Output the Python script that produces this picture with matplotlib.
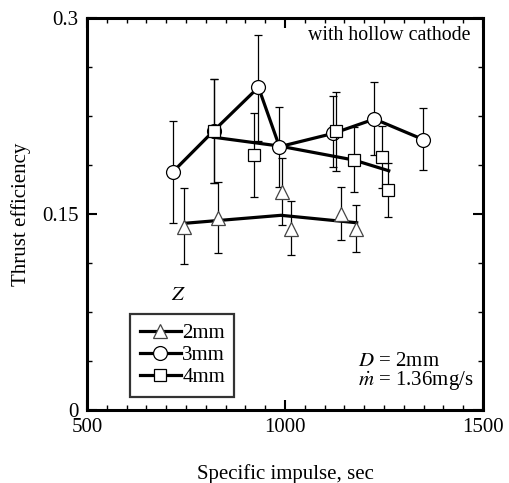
import matplotlib
matplotlib.use("Agg")
import matplotlib.pyplot as plt
from matplotlib.lines import Line2D
from matplotlib.ticker import MultipleLocator

plt.rcParams["font.family"] = "Liberation Serif"
plt.rcParams["mathtext.fontset"] = "stix"

# Z = 2mm (triangles)
z2_isp = [744, 832, 993, 1014, 1141, 1179]
z2_eff = [0.1398, 0.1467, 0.1666, 0.1385, 0.1497, 0.1383]
z2_hi = [0.1697, 0.1743, 0.1926, 0.1600, 0.1704, 0.1567]
z2_lo = [0.1115, 0.1199, 0.1416, 0.1184, 0.1299, 0.1207]
z2_line_isp = [747, 990, 1181]
z2_line_eff = [0.1429, 0.1490, 0.1433]

# Z = 3mm (circles)
z3_isp = [716, 820, 933, 986, 1122, 1226, 1349]
z3_eff = [0.182, 0.2137, 0.247, 0.2015, 0.2117, 0.2227, 0.207]
z3_hi = [0.221, 0.253, 0.287, 0.232, 0.240, 0.251, 0.231]
z3_lo = [0.143, 0.174, 0.206, 0.171, 0.186, 0.195, 0.184]

# Z = 4mm (squares)
z4_isp = [821, 922, 1129, 1174, 1246, 1261]
z4_eff = [0.2137, 0.195, 0.2135, 0.191, 0.1934, 0.1684]
z4_hi = [0.253, 0.2275, 0.243, 0.2163, 0.2173, 0.1888]
z4_lo = [0.174, 0.163, 0.183, 0.1666, 0.170, 0.1475]
z4_line_isp = [821, 986, 1174, 1262]
z4_line_eff = [0.2087, 0.202, 0.1913, 0.1831]

fig = plt.figure(figsize=(5.10, 4.83), dpi=100)
ax = fig.add_axes([87 / 510, 1 - 410 / 483, 396 / 510, 392 / 483])

lw = 2.3
fs = 15


def errs(vals, hi, lo):
    return [[v - l for v, l in zip(vals, lo)], [h - v for v, h in zip(vals, hi)]]


# trend lines
ax.plot(z3_isp, z3_eff, color="black", lw=lw, zorder=2)
ax.plot(z4_line_isp, z4_line_eff, color="black", lw=lw, zorder=2)
ax.plot(z2_line_isp, z2_line_eff, color="black", lw=lw, zorder=2)

# data with error bars
ax.errorbar(z3_isp, z3_eff, yerr=errs(z3_eff, z3_hi, z3_lo), fmt="o", ms=10,
            mfc="white", mec="black", mew=0.9, ecolor="black", elinewidth=0.9,
            capsize=3, capthick=0.9, zorder=3)
ax.errorbar(z4_isp, z4_eff, yerr=errs(z4_eff, z4_hi, z4_lo), fmt="s", ms=8.5,
            mfc="white", mec="black", mew=0.9, ecolor="black", elinewidth=0.9,
            capsize=3, capthick=0.9, zorder=4)
ax.errorbar(z2_isp, z2_eff, yerr=errs(z2_eff, z2_hi, z2_lo), fmt="^", ms=10,
            mfc="white", mec="#444444", mew=0.9, ecolor="black", elinewidth=0.9,
            capsize=3, capthick=0.9, zorder=4)

ax.set_xlim(500, 1500)
ax.set_ylim(0, 0.3)
ax.xaxis.set_minor_locator(MultipleLocator(50))
ax.yaxis.set_minor_locator(MultipleLocator(0.0375))
ax.set_xticks([500, 1000, 1500], ["500", "1000", "1500"])
ax.set_yticks([0, 0.15, 0.3], ["0", "0.15", "0.3"])
ax.tick_params(which="both", direction="in", top=True, right=True, labelsize=fs)
ax.tick_params(which="major", length=7, width=1.5, pad=6)
ax.tick_params(which="minor", length=3.5, width=1.0)
for s in ax.spines.values():
    s.set_linewidth(2.2)

ax.set_xlabel("Specific impulse, sec", fontsize=fs, labelpad=19)
ax.set_ylabel("Thrust efficiency", fontsize=fs, labelpad=8)

ax.text(0.968, 0.955, "with hollow cathode", transform=ax.transAxes,
        ha="right", va="center", fontsize=14.3)
ax.text(0.685, 0.125, r"$D$ = 2mm", transform=ax.transAxes,
        ha="left", va="center", fontsize=fs)
ax.text(0.685, 0.074, r"$\dot{m}$ = 1.36mg/s", transform=ax.transAxes,
        ha="left", va="center", fontsize=fs)
ax.text(0.232, 0.293, r"$Z$", transform=ax.transAxes,
        ha="center", va="center", fontsize=fs)

# legend proxies: line with marker
handles = [
    Line2D([], [], color="black", lw=lw, marker="^", ms=10, mfc="white", mec="#444444", mew=0.9),
    Line2D([], [], color="black", lw=lw, marker="o", ms=10, mfc="white", mec="black", mew=0.9),
    Line2D([], [], color="black", lw=lw, marker="s", ms=8.5, mfc="white", mec="black", mew=0.9),
]
leg = ax.legend(handles, ["2mm", "3mm", "4mm"], loc="lower left",
                bbox_to_anchor=(0.109, 0.034), borderaxespad=0, fontsize=fs,
                frameon=True, fancybox=False, handlelength=2.0, handletextpad=0.05,
                labelspacing=0.12, borderpad=0.45)
leg.get_frame().set_edgecolor("black")
leg.get_frame().set_linewidth(1.6)

fig.savefig("out.png", dpi=100)
